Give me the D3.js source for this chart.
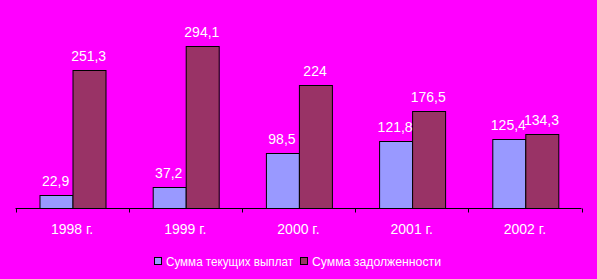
<!DOCTYPE html>
<html>
<head>
<meta charset="utf-8">
<script src="https://cdn.jsdelivr.net/npm/d3@7"></script>
<style>
  body { margin: 0; background: #ff00ff; }
  svg { display: block; }
  text { font-family: "Liberation Sans", Arial, sans-serif; fill: #fff; }
</style>
</head>
<body>
<svg id="chart" width="597" height="279"></svg>
<script>
var years = ["1998 г.", "1999 г.", "2000 г.", "2001 г.", "2002 г."];
var payments = [22.9, 37.2, 98.5, 121.8, 125.4];
var debts = [251.3, 294.1, 224, 176.5, 134.3];
var seriesNames = ["Сумма текущих выплат", "Сумма задолженности"];
var seriesColors = ["#9999ff", "#993366"];

var svg = d3.select("#chart");

var x = d3.scaleBand()
    .domain(years)
    .range([15.5, 581.5])
    .paddingInner(0)
    .paddingOuter(0);

var y = d3.scaleLinear()
    .domain([0, 350])
    .range([207.5, 15.5]);

// bars within each year
var sub = d3.scaleBand()
    .domain([0, 1])
    .range([0, x.bandwidth()])
    .paddingOuter(0.71)
    .paddingInner(0);

var rows = years.map(function(yr, i) {
    return { year: yr, values: [payments[i], debts[i]] };
});

var groups = svg.selectAll("g.year")
    .data(rows)
    .enter()
    .append("g")
    .attr("class", "year")
    .attr("transform", function(d) { return "translate(" + x(d.year) + ",0)"; });

groups.selectAll("rect")
    .data(function(d) { return d.values; })
    .enter()
    .append("rect")
    .attr("x", function(d, i) { return Math.round(sub(i)) + 0.5; })
    .attr("y", function(d) { return Math.round(y(d)) + 0.5; })
    .attr("width", Math.round(sub.bandwidth()))
    .attr("height", function(d) { return Math.round(y(0)) - Math.round(y(d)); })
    .attr("fill", function(d, i) { return seriesColors[i]; })
    .attr("stroke", "#000")
    .attr("stroke-width", 1);

groups.selectAll("text.val")
    .data(function(d) { return d.values; })
    .enter()
    .append("text")
    .attr("class", "val")
    .attr("x", function(d, i) { return sub(i) + sub.bandwidth() / 2; })
    .attr("y", function(d) { return y(d) - 9; })
    .attr("text-anchor", "middle")
    .style("font-size", "14px")
    .text(function(d) { return String(d).replace(".", ","); });

// category axis
var gx = svg.append("g")
    .attr("transform", "translate(0," + (Math.round(y(0)) + 0.5) + ")");

gx.append("line")
    .attr("x1", x.range()[0])
    .attr("x2", x.range()[1])
    .attr("stroke", "#000");

gx.selectAll("line.tick")
    .data(years.concat([null]))
    .enter()
    .append("line")
    .attr("class", "tick")
    .attr("x1", function(d) { return Math.round(d ? x(d) : x.range()[1]) + 0.5; })
    .attr("x2", function(d) { return Math.round(d ? x(d) : x.range()[1]) + 0.5; })
    .attr("y1", 0)
    .attr("y2", 4)
    .attr("stroke", "#000");

gx.selectAll("text.cat")
    .data(years)
    .enter()
    .append("text")
    .attr("class", "cat")
    .attr("x", function(d) { return x(d) + x.bandwidth() / 2; })
    .attr("y", 25)
    .attr("text-anchor", "middle")
    .style("font-size", "14px")
    .text(function(d) { return d; });

// legend
var legendX = [154, 300];
var legendLen = [127, 129];
var legend = svg.selectAll("g.legend")
    .data(seriesNames)
    .enter()
    .append("g")
    .attr("class", "legend")
    .attr("transform", function(d, i) { return "translate(" + legendX[i] + ",257)"; });

legend.append("rect")
    .attr("x", 0.5)
    .attr("y", 0.5)
    .attr("width", 7)
    .attr("height", 7)
    .attr("fill", function(d, i) { return seriesColors[i]; })
    .attr("stroke", "#000");

legend.append("text")
    .attr("x", 12)
    .attr("y", 8.5)
    .attr("textLength", function(d, i) { return legendLen[i]; })
    .attr("lengthAdjust", "spacingAndGlyphs")
    .style("font-size", "13px")
    .text(function(d) { return d; });
</script>
</body>
</html>
